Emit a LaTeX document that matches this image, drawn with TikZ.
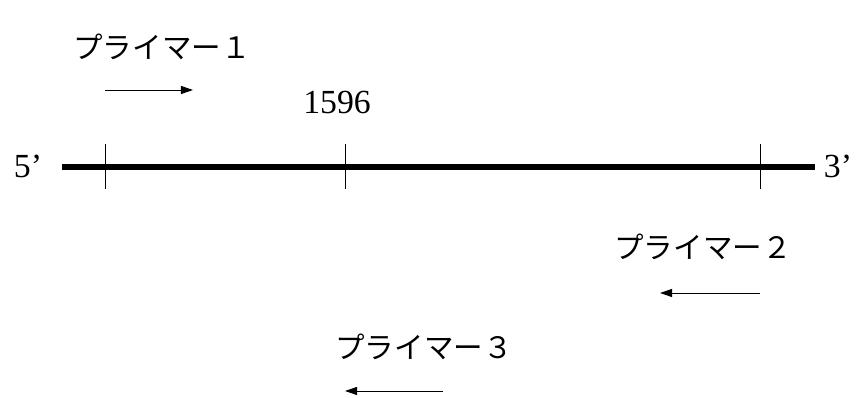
\documentclass[tikz,border=0pt]{standalone}
\usepackage{fontspec}
\setmainfont{Liberation Serif}
\newfontfamily\jpfont{Noto Sans CJK JP}
\usetikzlibrary{arrows.meta, positioning}

\begin{document}
\begin{tikzpicture}[
        x=0.025cm, y=-0.025cm,
        strand/.style={line width=3.6pt},
        tick/.style={line width=0.7pt},
        label/.style={font=\fontsize{24}{27}\selectfont, inner sep=0pt},
        primer/.style={font=\jpfont\fontsize{21}{24}\selectfont, inner sep=0pt},
        arrow/.style={-{Triangle[length=0.3cm, width=0.2cm]}, line width=0.7pt},
    ]
    \useasboundingbox (0,0) rectangle (860,398);

    % DNA 鎖
    \coordinate (left) at (62,167);
    \coordinate (right) at (815,167);
    \draw[strand] (left) -- (right);
    \node[label] (five) at (28,166) {5’};
    \node[label] (three) at (838,166) {3’};

    % 目盛り
    \coordinate (t1top) at (105,144);
    \coordinate (t1bot) at (105,189);
    \coordinate (t2top) at (345,144);
    \coordinate (t2bot) at (345,189);
    \coordinate (t3top) at (760,144);
    \coordinate (t3bot) at (760,189);
    \draw[tick] (t1top) -- (t1bot);
    \draw[tick] (t2top) -- (t2bot);
    \draw[tick] (t3top) -- (t3bot);
    \node[label] (pos) at (337,102) {1596};

    % プライマー1
    \node[primer] (p1) at (162,47) {プライマー１};
    \coordinate (a1s) at (105,90);
    \coordinate (a1e) at (193,90);
    \draw[arrow] (a1s) -- (a1e);

    % プライマー2
    \node[primer] (p2) at (703,247) {プライマー２};
    \coordinate (a2s) at (760,293);
    \coordinate (a2e) at (660,293);
    \draw[arrow] (a2s) -- (a2e);

    % プライマー3
    \node[primer] (p3) at (424,347) {プライマー３};
    \coordinate (a3s) at (443,391);
    \coordinate (a3e) at (345,391);
    \draw[arrow] (a3s) -- (a3e);
\end{tikzpicture}
\end{document}
